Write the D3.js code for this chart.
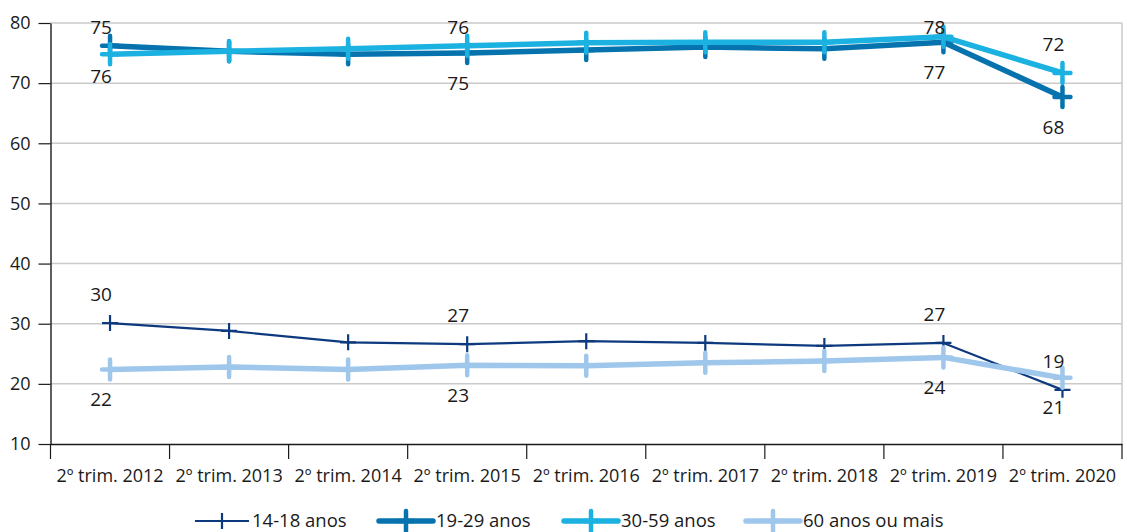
<!DOCTYPE html>
<html>
<head>
<meta charset="utf-8">
<script src="https://cdn.jsdelivr.net/npm/d3@7"></script>
<style>
  html, body { margin: 0; padding: 0; background: #fff; }
  svg { display: block; font-family: "Open Sans", "Noto Sans", sans-serif; }
</style>
</head>
<body>
<svg id="chart" width="1127" height="532"></svg>
<script>
// Quarters (2nd quarter of each year)
const categories = ["2º trim. 2012", "2º trim. 2013", "2º trim. 2014", "2º trim. 2015",
  "2º trim. 2016", "2º trim. 2017", "2º trim. 2018", "2º trim. 2019", "2º trim. 2020"];

// Series values (%)
const age14to18 = [30.1, 28.8, 26.9, 26.6, 27.1, 26.8, 26.3, 26.8, 19.0];
const age19to29 = [76.2, 75.3, 74.8, 75.0, 75.5, 76.0, 75.7, 76.8, 67.7];
const age30to59 = [74.8, 75.3, 75.7, 76.2, 76.7, 76.8, 76.8, 77.7, 71.7];
const age60plus = [22.4, 22.8, 22.4, 23.1, 23.0, 23.5, 23.8, 24.4, 21.0];

const seriesNames = ["14-18 anos", "19-29 anos", "30-59 anos", "60 anos ou mais"];

// Y axis tick labels
const yTicks = [10, 20, 30, 40, 50, 60, 70, 80];

// Which quarters carry a value label
const labelledQuarters = ["2º trim. 2012", "2º trim. 2015", "2º trim. 2019", "2º trim. 2020"];

const series = [
  { name: seriesNames[0], values: age14to18, color: "#0d3a7e", width: 2.2, crossH: 8, crossV: 8, crossW: 2.2, labelSide: "above" },
  { name: seriesNames[1], values: age19to29, color: "#0673ae", width: 5.5, crossH: 8, crossV: 10, crossW: 4.5, labelSide: "below" },
  { name: seriesNames[2], values: age30to59, color: "#1bb1e0", width: 5.5, crossH: 8, crossV: 10, crossW: 4.5, labelSide: "above" },
  { name: seriesNames[3], values: age60plus, color: "#9fc7eb", width: 5.5, crossH: 8, crossV: 10, crossW: 4.5, labelSide: "below" }
];

const svg = d3.select("#chart");
const plotLeft = 50.5, plotRight = 1122, plotTop = 23, plotBottom = 444;
const fontSize = 18;

const x = d3.scaleBand().domain(categories).range([plotLeft, plotRight]);
const y = d3.scaleLinear().domain([10, 80]).range([plotBottom, plotTop]);
const cx = c => x(c) + x.bandwidth() / 2;

// Gridlines
svg.append("g")
  .selectAll("line")
  .data(yTicks.filter(t => t > 10))
  .join("line")
  .attr("x1", plotLeft).attr("x2", plotRight)
  .attr("y1", d => y(d)).attr("y2", d => y(d))
  .attr("stroke", "#cacaca").attr("stroke-width", 1.5);

// Right frame edge
svg.append("line")
  .attr("x1", plotRight).attr("x2", plotRight)
  .attr("y1", y(80)).attr("y2", plotBottom)
  .attr("stroke", "#cacaca").attr("stroke-width", 1.5);

// Y axis
const yAxis = svg.append("g")
  .attr("transform", `translate(${plotLeft},0)`)
  .call(d3.axisLeft(y).tickValues(yTicks).tickSize(12).tickPadding(8).tickSizeOuter(0));
yAxis.select(".domain").attr("stroke", "#1a1a1a").attr("stroke-width", 1.4);
yAxis.selectAll(".tick line").attr("stroke", "#1a1a1a").attr("stroke-width", 1.2);
yAxis.selectAll(".tick text").attr("font-size", fontSize).attr("fill", "#1a1a1a")
  .attr("font-family", "Open Sans, sans-serif");

// X axis: labels centred on bands, tick marks on band edges
const xAxis = svg.append("g")
  .attr("transform", `translate(0,${plotBottom})`)
  .call(d3.axisBottom(x).tickSize(0).tickPadding(25).tickSizeOuter(0));
xAxis.select(".domain").attr("stroke", "#1a1a1a").attr("stroke-width", 1.4);
xAxis.selectAll(".tick text").attr("font-size", fontSize).attr("fill", "#1a1a1a")
  .attr("font-family", "Open Sans, sans-serif");
xAxis.selectAll(".edge")
  .data(categories.map(c => x(c)).concat([plotRight]))
  .join("line")
  .attr("class", "edge")
  .attr("x1", d => d).attr("x2", d => d)
  .attr("y1", 0).attr("y2", 15)
  .attr("stroke", "#1a1a1a").attr("stroke-width", 1.2);

// Lines and cross markers
const line = d3.line().x((d, i) => cx(categories[i])).y(d => y(d));

function crossPath(px, py, h, v) {
  return `M${px - h},${py}H${px + h}M${px},${py - v}V${py + v}`;
}

series.forEach(s => {
  const g = svg.append("g");
  g.append("path")
    .attr("d", line(s.values))
    .attr("fill", "none")
    .attr("stroke", s.color)
    .attr("stroke-width", s.width)
    .attr("stroke-linejoin", "round");
  g.selectAll("path.mk")
    .data(s.values)
    .join("path")
    .attr("class", "mk")
    .attr("d", (d, i) => crossPath(cx(categories[i]), y(d), s.crossH, s.crossV))
    .attr("stroke", s.color)
    .attr("stroke-width", s.crossW)
    .attr("stroke-linecap", s.width > 3 ? "round" : "butt");
});

// Value labels
series.forEach(s => {
  const pts = s.values.map((v, i) => ({ v, c: categories[i] }))
    .filter(p => labelledQuarters.includes(p.c));
  svg.append("g").selectAll("text")
    .data(pts)
    .join("text")
    .attr("x", p => cx(p.c) - 9)
    .attr("y", p => s.labelSide === "above"
      ? Math.max(y(p.v) - 29, y(80) + 4)
      : y(p.v) + 30)
    .attr("dy", "0.35em")
    .attr("text-anchor", "middle")
    .attr("font-size", 19)
    .attr("fill", "#1a1a1a")
    .text(p => d3.format(".0f")(p.v));
});

// Legend
const legendX = [195, 379, 564, 746];
const legend = svg.append("g").attr("transform", "translate(0,521)");
series.forEach((s, i) => {
  const lx = legendX[i], len = 54;
  const g = legend.append("g");
  g.append("line")
    .attr("x1", lx).attr("x2", lx + len).attr("y1", 0).attr("y2", 0)
    .attr("stroke", s.color).attr("stroke-width", s.width)
    .attr("stroke-linecap", s.width > 3 ? "round" : "butt");
  g.append("path")
    .attr("d", crossPath(lx + len / 2, 0, s.crossH, s.crossV))
    .attr("stroke", s.color).attr("stroke-width", s.crossW)
    .attr("stroke-linecap", s.width > 3 ? "round" : "butt");
  g.append("text")
    .attr("x", lx + len + 3).attr("y", 0).attr("dy", "0.35em")
    .attr("font-size", 18.5).attr("fill", "#1a1a1a")
    .text(s.name);
});
</script>
</body>
</html>
